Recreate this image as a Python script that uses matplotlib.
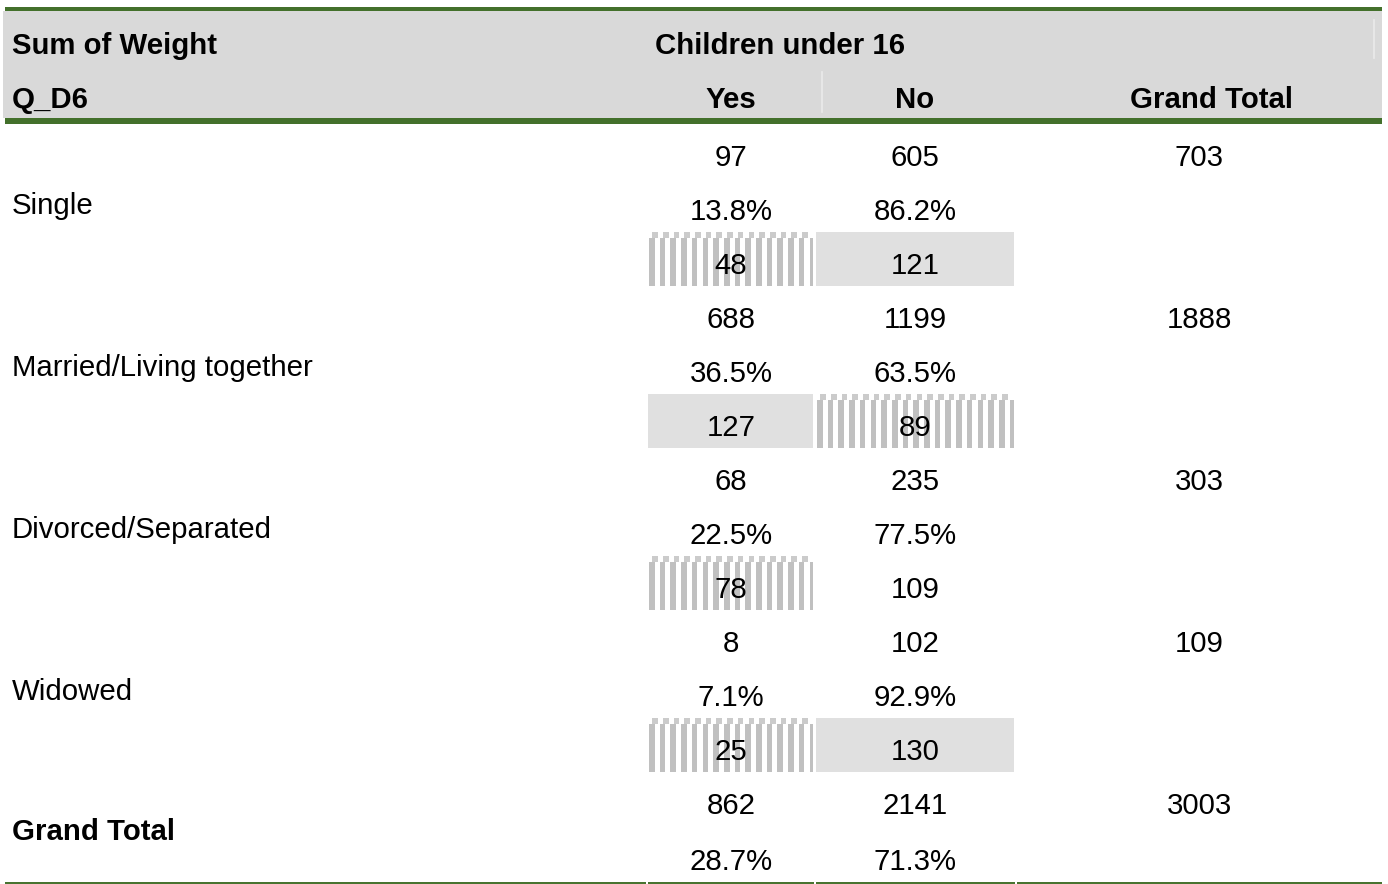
import matplotlib
matplotlib.use("Agg")
import matplotlib.pyplot as plt
from matplotlib.patches import Rectangle
import numpy as np

# ---------------- data ----------------
categories = ["Single", "Married/Living together", "Divorced/Separated", "Widowed"]
yes_counts = [97, 688, 68, 8]
no_counts = [605, 1199, 235, 102]
row_totals = [703, 1888, 303, 109]
yes_pct = ["13.8%", "36.5%", "22.5%", "7.1%"]
no_pct = ["86.2%", "63.5%", "77.5%", "92.9%"]
yes_index = [48, 127, 78, 25]
no_index = [121, 89, 109, 130]
total_counts = [862, 2141, 3003]
total_pct = ["28.7%", "71.3%"]
col_labels = ["Yes", "No", "Grand Total"]
header_title = "Sum of Weight"
row_field = "Q_D6"
col_field = "Children under 16"

# ---------------- style ----------------
plt.rcParams["font.family"] = ["Liberation Sans", "DejaVu Sans"]
FS = 21.2
GREEN = "#43702b"
HEADER_BG = "#d9d9d9"
SOLID_BG = "#e0e0e0"
STRIPE = "#c0c0c0"
STRIPE_TOP = "#cbcbcb"

W, H = 1388, 884
fig = plt.figure(figsize=(W / 100, H / 100), dpi=100)
ax = fig.add_axes([0, 0, 1, 1])
ax.set_xlim(0, W)
ax.set_ylim(H, 0)
ax.axis("off")

LEFT, RIGHT = 3, 1382
col_edges = [647, 815, 1016, RIGHT]
col_centers = [731, 915, 1199]
header_centers = [731, 915, 1212]
CAP = 10.5  # half cap height in px -> baseline offset


def txt(x, y, s, ha="center", bold=False):
    ax.text(x, y + CAP, s, ha=ha, va="baseline", fontsize=FS,
            fontweight="bold" if bold else "normal", color="black")


# header
ax.add_patch(Rectangle((LEFT, 11), RIGHT - LEFT, 107, facecolor=HEADER_BG, edgecolor="none"))
ax.add_patch(Rectangle((LEFT + 2, 7), RIGHT - LEFT - 2, 4, facecolor=GREEN, edgecolor="none"))
ax.add_patch(Rectangle((LEFT + 2, 118), RIGHT - LEFT - 2, 5.5, facecolor=GREEN, edgecolor="none"))
ax.plot([822, 822], [72, 112], color="#ebebeb", lw=1.2)
ax.plot([1374, 1374], [20, 58], color="#ebebeb", lw=1.2)
txt(12, 43, header_title, ha="left", bold=True)
txt(12, 97, row_field, ha="left", bold=True)
txt(655, 43, col_field, ha="left", bold=True)
for xc, lab in zip(header_centers, col_labels):
    txt(xc, 97, lab, bold=True)

# body
LINE = 54.0
TOP = 128


def shade(ci, ytop, kind):
    x0 = col_edges[ci] + 1
    x1 = col_edges[ci + 1] - 2
    if kind == "solid":
        ax.add_patch(Rectangle((x0, ytop), x1 - x0, 54, facecolor=SOLID_BG, edgecolor="none", zorder=0))
    elif kind == "hatch":
        period = 10.7
        sw = 5.6
        for xs in np.arange(x0 + 1, x1 - 2, period):
            ax.add_patch(Rectangle((xs, ytop + 6), min(sw, x1 - xs), 48, facecolor=STRIPE,
                                   edgecolor="none", zorder=0))
            xt = xs + 3.2
            if xt + 2 < x1:
                ax.add_patch(Rectangle((xt, ytop), min(sw, x1 - xt), 6, facecolor=STRIPE_TOP,
                                       edgecolor="none", zorder=0))


def kind_of(idx):
    if idx >= 115:
        return "solid"
    if idx < 95:
        return "hatch"
    return None


for i, cat in enumerate(categories):
    b = TOP + i * 3 * LINE
    c1, c2, c3 = b + LINE / 2, b + 1.5 * LINE, b + 2.5 * LINE
    txt(col_centers[0], c1, str(yes_counts[i]))
    txt(col_centers[1], c1, str(no_counts[i]))
    txt(col_centers[2], c1, str(row_totals[i]))
    txt(col_centers[0], c2, yes_pct[i])
    txt(col_centers[1], c2, no_pct[i])
    for ci, idx in enumerate([yes_index[i], no_index[i]]):
        k = kind_of(idx)
        if k:
            shade(ci, b + 2 * LINE - 4, k)
        txt(col_centers[ci], c3, str(idx))
    txt(12, c2 - 5, cat, ha="left")

# grand total
b = TOP + 4 * 3 * LINE
for ci, v in enumerate(total_counts):
    txt(col_centers[ci], b + 28, str(v))
for ci, v in enumerate(total_pct):
    txt(col_centers[ci], b + 83, v)
txt(12, b + 54, "Grand Total", ha="left", bold=True)

# bottom rule with gaps at column boundaries
segs = [(LEFT + 2, 646), (648, 814), (816, 1015), (1017, RIGHT)]
for a, c in segs:
    ax.plot([a, c], [882.8, 882.8], color=GREEN, lw=1.4, solid_capstyle="butt")

fig.savefig("out.png", dpi=100)
